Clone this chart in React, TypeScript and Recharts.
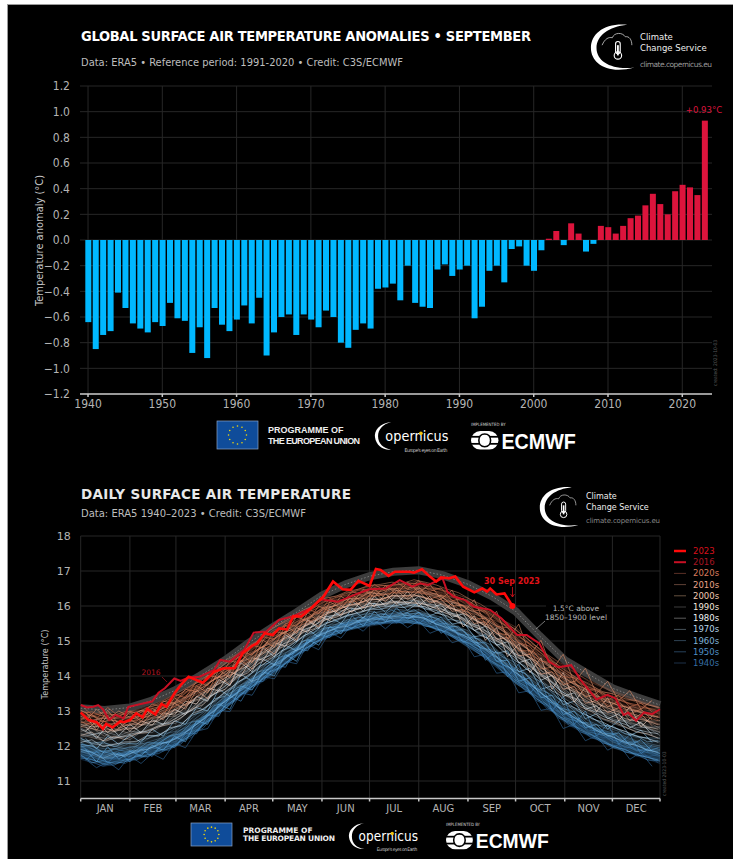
import { Area, Bar, BarChart, CartesianGrid, Cell, ComposedChart, Line, XAxis, YAxis } from "recharts"

// september anomalies 1940-2023 (degC, ref 1991-2020)
const years = [
  1940, 1941, 1942, 1943, 1944, 1945, 1946, 1947, 1948, 1949, 1950, 1951, 1952, 1953, 1954, 1955, 1956, 1957, 1958, 1959, 1960,
  1961, 1962, 1963, 1964, 1965, 1966, 1967, 1968, 1969, 1970, 1971, 1972, 1973, 1974, 1975, 1976, 1977, 1978, 1979, 1980,
  1981, 1982, 1983, 1984, 1985, 1986, 1987, 1988, 1989, 1990, 1991, 1992, 1993, 1994, 1995, 1996, 1997, 1998, 1999, 2000,
  2001, 2002, 2003, 2004, 2005, 2006, 2007, 2008, 2009, 2010, 2011, 2012, 2013, 2014, 2015, 2016, 2017, 2018, 2019, 2020,
  2021, 2022, 2023,
]
const anomalies = [
  -0.64, -0.85, -0.74, -0.71, -0.41, -0.53, -0.65, -0.69, -0.72, -0.64, -0.67, -0.49, -0.61, -0.63, -0.88, -0.68, -0.92, -0.53, -0.66, -0.71, -0.62,
  -0.51, -0.65, -0.45, -0.9, -0.72, -0.6, -0.58, -0.74, -0.58, -0.62, -0.68, -0.55, -0.6, -0.8, -0.84, -0.7, -0.65, -0.69, -0.38, -0.37,
  -0.34, -0.47, -0.2, -0.49, -0.52, -0.53, -0.23, -0.19, -0.28, -0.23, -0.2, -0.61, -0.52, -0.24, -0.2, -0.33, -0.07, -0.05, -0.2, -0.24,
  -0.08, 0.01, 0.07, -0.04, 0.13, 0.05, -0.09, -0.03, 0.11, 0.1, 0.05, 0.11, 0.17, 0.19, 0.27, 0.36, 0.28, 0.2, 0.38, 0.43,
  0.41, 0.35, 0.93,
]
const anomalyTicks = [-1.2, -1.0, -0.8, -0.6, -0.4, -0.2, 0, 0.2, 0.4, 0.6, 0.8, 1.0, 1.2]
const decadeTicks = [1940, 1950, 1960, 1970, 1980, 1990, 2000, 2010, 2020]

// daily temperature, day of year
const monthNames = ["JAN", "FEB", "MAR", "APR", "MAY", "JUN", "JUL", "AUG", "SEP", "OCT", "NOV", "DEC"]
const monthStarts = [1, 32, 61, 92, 122, 153, 183, 214, 245, 275, 306, 336, 366]
const tempTicks = [11, 12, 13, 14, 15, 16, 17, 18]

const days2023 = [
  1, 6, 11, 15, 17, 21, 26, 28, 32, 36, 40, 43, 48, 52, 55, 60, 64, 69, 78, 85, 91, 98, 103, 109, 112, 117, 122, 126, 131, 135, 140, 146,
  154, 160, 166, 171, 176, 183, 187, 190, 195, 199, 202, 208, 211, 216, 221, 225, 228, 233, 237, 242, 249, 254, 257, 259, 263, 268, 273,
]
const temps2023 = [
  12.96, 12.74, 12.68, 12.49, 12.63, 12.53, 12.71, 12.68, 12.74, 12.93, 12.82, 13.06, 12.9, 13.2, 13.12, 13.5, 13.74, 13.98, 13.81, 14.12,
  14.22, 14.22, 14.65, 14.86, 14.93, 15.22, 15.17, 15.36, 15.33, 15.71, 15.7, 15.93, 16.27, 16.7, 16.48, 16.46, 16.72, 16.57, 17.06, 17.03,
  16.86, 16.98, 16.98, 16.98, 16.95, 17.05, 16.84, 16.7, 16.82, 16.79, 16.84, 16.55, 16.39, 16.5, 16.41, 16.5, 16.33, 16.36, 16.0,
]
const days2016 = [
  1, 5, 9, 12, 15, 19, 23, 28, 31, 41, 46, 50, 54, 60, 64, 69, 76, 85, 89, 95, 104, 110, 118, 126, 135, 146, 152, 163, 173, 183, 193, 202,
  210, 215, 220, 229, 232, 236, 243, 249, 259, 266, 276, 282, 290, 296, 302, 310, 316, 326, 333, 338, 343, 346, 351, 356, 361, 366,
]
const temps2016 = [
  13.17, 13.1, 13.12, 13.17, 13.05, 12.74, 12.89, 12.79, 13.12, 13.22, 13.27, 13.52, 13.65, 13.93, 13.86, 13.96, 13.98, 14.17, 14.46, 14.41,
  14.74, 15.24, 15.27, 15.6, 15.71, 15.93, 16.19, 16.12, 16.31, 16.48, 16.5, 16.74, 16.55, 16.65, 16.6, 16.79, 16.41, 16.27, 16.17, 15.98,
  15.89, 15.65, 15.17, 15.17, 14.93, 14.41, 14.25, 14.31, 13.89, 13.33, 13.46, 13.36, 12.89, 12.95, 12.72, 12.96, 12.91, 13.05,
]

// the other years are read at these days
const sampleDays = [1, 16, 32, 46, 61, 76, 92, 107, 122, 137, 153, 168, 183, 198, 214, 229, 245, 260, 275, 290, 306, 321, 336, 351, 366]
const weekDays = [
  1, 8, 15, 22, 29, 36, 43, 50, 57, 64, 71, 78, 85, 92, 99, 106, 113, 120, 127, 134, 141, 148, 155, 162, 169, 176, 183, 190, 197, 204, 211, 218, 225,
  232, 239, 246, 253, 260, 267, 274, 281, 288, 295, 302, 309, 316, 323, 330, 337, 344, 351, 358, 365,
]
const offsetDays = [
  4, 11, 18, 25, 32, 39, 46, 53, 60, 67, 74, 81, 88, 95, 102, 109, 116, 123, 130, 137, 144, 151, 158, 165, 172, 179, 186, 193, 200, 207, 214, 221, 228,
  235, 242, 249, 256, 263, 270, 277, 284, 291, 298, 305, 312, 319, 326, 333, 340, 347, 354, 361,
]
const level15 = [
  13.08, 13.03, 13.1, 13.3, 13.6, 14.0, 14.45, 14.95, 15.4, 15.82, 16.3, 16.62, 16.85, 16.98, 17.02, 16.88, 16.62, 16.28, 15.85, 15.15, 14.45, 14.05, 13.65, 13.4, 13.17,
]

const years1940s = [
  [11.62, 11.42, 11.58, 11.8, 11.98, 12.5, 13.08, 13.6, 14.02, 14.58, 15.02, 15.3, 15.42, 15.55, 15.5, 15.28, 14.85, 14.38, 13.82, 13.3, 12.66, 12.28, 11.98, 11.72, 11.5],
  [11.85, 11.55, 11.72, 11.72, 12.15, 12.62, 13.25, 13.55, 14.18, 14.7, 15.18, 15.35, 15.58, 15.5, 15.62, 15.4, 15.02, 14.42, 14.0, 13.35, 12.85, 12.35, 12.15, 11.8, 11.62],
  [11.7, 11.78, 11.6, 11.95, 12.05, 12.72, 13.15, 13.78, 14.12, 14.62, 15.1, 15.45, 15.5, 15.66, 15.55, 15.32, 14.92, 14.58, 13.88, 13.5, 12.74, 12.48, 12.02, 11.92, 11.72],
  [11.95, 11.62, 11.85, 11.88, 12.28, 12.58, 13.35, 13.7, 14.28, 14.78, 15.25, 15.42, 15.65, 15.6, 15.72, 15.48, 15.08, 14.55, 14.08, 13.48, 12.95, 12.42, 12.22, 12.0, 11.8],
]
const years1950s = [
  [11.68, 11.5, 11.65, 11.78, 12.08, 12.55, 13.12, 13.62, 14.1, 14.55, 15.05, 15.28, 15.48, 15.52, 15.52, 15.25, 14.88, 14.35, 13.8, 13.28, 12.72, 12.3, 12.0, 11.78, 11.55],
  [11.9, 11.7, 11.55, 11.98, 12.2, 12.75, 13.3, 13.72, 14.25, 14.72, 15.2, 15.48, 15.6, 15.7, 15.65, 15.45, 15.05, 14.6, 14.05, 13.55, 12.92, 12.52, 12.18, 11.92, 11.68],
  [11.78, 11.58, 11.82, 11.85, 12.02, 12.48, 13.22, 13.85, 14.18, 14.8, 15.15, 15.38, 15.66, 15.58, 15.74, 15.38, 15.12, 14.48, 14.15, 13.42, 12.82, 12.6, 12.28, 11.85, 11.78],
  [12.02, 11.82, 11.75, 12.1, 12.32, 12.68, 13.38, 13.68, 14.35, 14.68, 15.3, 15.52, 15.55, 15.78, 15.68, 15.55, 14.98, 14.68, 13.98, 13.62, 13.02, 12.45, 12.35, 12.05, 11.9],
]
const years1960s = [
  [11.72, 11.48, 11.62, 11.92, 12.02, 12.62, 13.05, 13.7, 14.05, 14.62, 15.08, 15.32, 15.45, 15.6, 15.48, 15.3, 14.82, 14.42, 13.78, 13.38, 12.7, 12.38, 11.95, 11.75, 11.58],
  [11.98, 11.65, 11.85, 11.8, 12.25, 12.5, 13.32, 13.62, 14.3, 14.75, 15.22, 15.4, 15.7, 15.55, 15.7, 15.48, 15.1, 14.52, 14.12, 13.45, 12.98, 12.4, 12.25, 12.02, 11.72],
  [11.82, 11.88, 11.7, 12.08, 12.12, 12.78, 13.2, 13.9, 14.15, 14.85, 15.12, 15.55, 15.58, 15.72, 15.6, 15.35, 14.95, 14.72, 13.92, 13.6, 12.8, 12.62, 12.12, 11.88, 11.88],
  [12.1, 11.72, 11.98, 11.95, 12.4, 12.7, 13.45, 13.75, 14.42, 14.7, 15.35, 15.45, 15.72, 15.65, 15.82, 15.58, 15.18, 14.6, 14.22, 13.52, 13.08, 12.55, 12.38, 12.12, 11.95],
]
const years1970s = [
  [11.85, 11.62, 11.78, 11.95, 12.22, 12.68, 13.28, 13.75, 14.28, 14.72, 15.22, 15.45, 15.6, 15.65, 15.68, 15.42, 15.05, 14.62, 14.1, 13.55, 12.98, 12.55, 12.25, 12.02, 11.78],
  [12.05, 11.92, 11.95, 12.15, 12.35, 12.88, 13.4, 13.92, 14.38, 14.88, 15.3, 15.6, 15.72, 15.8, 15.78, 15.6, 15.22, 14.78, 14.28, 13.72, 13.12, 12.72, 12.42, 12.15, 12.0],
  [12.22, 11.8, 12.08, 12.05, 12.52, 12.78, 13.55, 13.85, 14.5, 14.82, 15.42, 15.52, 15.85, 15.72, 15.9, 15.52, 15.3, 14.7, 14.38, 13.65, 13.25, 12.62, 12.55, 12.3, 12.12],
  [11.98, 12.08, 11.88, 12.28, 12.42, 12.98, 13.48, 14.02, 14.45, 15.0, 15.35, 15.7, 15.78, 15.92, 15.82, 15.68, 15.18, 14.88, 14.2, 13.85, 13.18, 12.85, 12.48, 12.25, 12.22],
]
const years1980s = [
  [12.15, 12.0, 12.1, 12.25, 12.55, 13.0, 13.52, 14.05, 14.52, 15.02, 15.45, 15.72, 15.88, 15.95, 15.98, 15.75, 15.42, 14.98, 14.45, 13.92, 13.35, 12.92, 12.65, 12.42, 12.22],
  [12.35, 12.22, 12.28, 12.48, 12.72, 13.18, 13.7, 14.15, 14.68, 15.1, 15.6, 15.82, 16.0, 16.05, 16.08, 15.9, 15.55, 15.12, 14.62, 14.08, 13.5, 13.12, 12.78, 12.6, 12.38],
  [12.52, 12.12, 12.42, 12.38, 12.88, 13.08, 13.85, 14.28, 14.78, 15.22, 15.55, 15.92, 15.95, 16.12, 16.02, 15.82, 15.62, 15.05, 14.72, 14.02, 13.62, 13.02, 12.92, 12.52, 12.55],
  [12.25, 12.42, 12.18, 12.62, 12.65, 13.3, 13.62, 14.38, 14.62, 15.28, 15.68, 15.78, 16.08, 16.0, 16.15, 15.98, 15.48, 15.22, 14.55, 14.22, 13.45, 13.25, 12.72, 12.72, 12.3],
]
const years1990s = [
  [12.32, 12.15, 12.3, 12.5, 12.78, 13.22, 13.78, 14.22, 14.72, 15.15, 15.58, 15.8, 16.0, 16.08, 16.1, 15.9, 15.58, 15.18, 14.65, 14.12, 13.55, 13.1, 12.85, 12.62, 12.4],
  [12.58, 12.4, 12.48, 12.68, 12.98, 13.42, 13.88, 14.4, 14.85, 15.3, 15.72, 15.98, 16.1, 16.22, 16.2, 16.05, 15.72, 15.32, 14.82, 14.3, 13.72, 13.32, 13.02, 12.82, 12.6],
  [12.42, 12.6, 12.35, 12.82, 12.85, 13.5, 13.95, 14.3, 14.95, 15.22, 15.82, 15.88, 16.22, 16.12, 16.32, 15.98, 15.82, 15.25, 14.92, 14.18, 13.82, 13.2, 13.12, 12.7, 12.72],
  [12.72, 12.28, 12.65, 12.58, 13.1, 13.32, 14.05, 14.5, 14.8, 15.4, 15.65, 16.05, 16.05, 16.3, 16.15, 16.12, 15.65, 15.42, 14.75, 14.38, 13.65, 13.42, 12.95, 12.9, 12.5],
]
const years2000s = [
  [12.55, 12.42, 12.5, 12.72, 13.02, 13.45, 13.95, 14.42, 14.9, 15.32, 15.72, 15.98, 16.15, 16.25, 16.28, 16.08, 15.75, 15.38, 14.88, 14.35, 13.78, 13.38, 13.08, 12.85, 12.62],
  [12.78, 12.62, 12.7, 12.9, 13.15, 13.62, 14.1, 14.55, 15.02, 15.45, 15.88, 16.1, 16.28, 16.35, 16.4, 16.22, 15.9, 15.5, 15.02, 14.52, 13.95, 13.52, 13.22, 13.02, 12.82],
  [12.65, 12.82, 12.58, 13.02, 13.28, 13.55, 14.22, 14.48, 15.12, 15.38, 15.95, 16.05, 16.38, 16.3, 16.5, 16.15, 16.0, 15.45, 15.12, 14.42, 14.05, 13.45, 13.32, 12.95, 12.95],
  [12.9, 12.52, 12.85, 12.82, 13.05, 13.72, 14.02, 14.65, 14.95, 15.55, 15.82, 16.2, 16.22, 16.45, 16.35, 16.3, 15.82, 15.62, 14.95, 14.6, 13.88, 13.6, 13.15, 13.1, 12.72],
]
const years2010s = [
  [12.72, 12.6, 12.68, 12.88, 13.18, 13.62, 14.12, 14.58, 15.05, 15.48, 15.88, 16.12, 16.3, 16.38, 16.42, 16.25, 15.92, 15.55, 15.08, 14.55, 13.98, 13.55, 13.25, 13.02, 12.8],
  [12.92, 12.78, 12.85, 13.05, 13.32, 13.78, 14.28, 14.72, 15.2, 15.6, 16.02, 16.28, 16.42, 16.5, 16.55, 16.38, 16.08, 15.7, 15.22, 14.68, 14.1, 13.68, 13.4, 13.15, 12.98],
  [12.85, 12.98, 12.75, 13.18, 13.45, 13.7, 14.38, 14.65, 15.3, 15.55, 16.12, 16.2, 16.52, 16.48, 16.68, 16.3, 16.18, 15.62, 15.35, 14.62, 14.22, 13.6, 13.5, 13.08, 13.08],
  [13.02, 12.7, 13.0, 12.98, 13.25, 13.9, 14.2, 14.85, 15.15, 15.72, 15.98, 16.38, 16.4, 16.62, 16.5, 16.5, 16.0, 15.82, 15.15, 14.8, 14.05, 13.8, 13.32, 13.3, 12.88],
  [12.78, 12.88, 12.92, 13.12, 13.5, 13.85, 14.45, 14.78, 15.38, 15.68, 16.2, 16.35, 16.6, 16.58, 16.72, 16.45, 16.22, 15.78, 15.4, 14.75, 14.3, 13.85, 13.55, 13.25, 13.1],
]
const years2020s = [
  [13.0, 12.85, 12.98, 13.15, 13.4, 13.92, 14.4, 14.88, 15.25, 15.68, 16.1, 16.35, 16.55, 16.6, 16.65, 16.42, 16.15, 15.75, 15.32, 14.78, 14.25, 13.88, 13.58, 13.32, 13.1],
  [12.68, 12.55, 12.62, 12.82, 13.12, 13.68, 14.05, 14.6, 15.0, 15.52, 15.85, 16.18, 16.32, 16.52, 16.45, 16.32, 15.95, 15.6, 15.12, 14.62, 14.02, 13.65, 13.28, 13.05, 12.85],
  [12.82, 12.7, 12.78, 12.95, 13.22, 13.75, 14.18, 14.7, 15.12, 15.55, 15.92, 16.22, 16.4, 16.55, 16.58, 16.35, 16.05, 15.72, 15.2, 14.7, 14.15, 13.72, 13.38, 13.12, 12.92],
]

// a few years read weekly, they carry the wiggle
const weekly1940s = [
  [11.7, 11.55, 11.42, 11.55, 11.5, 11.7, 11.68, 11.85, 11.88, 12.12, 12.25, 12.6, 12.78, 13.12, 13.3, 13.65, 13.78, 14.08, 14.22, 14.55, 14.68, 14.95, 15.05, 15.28, 15.3, 15.48, 15.45, 15.6, 15.52, 15.58, 15.5, 15.52, 15.32, 15.25, 15.02, 14.95, 14.62, 14.48, 14.12, 13.98, 13.58, 13.42, 13.05, 12.92, 12.58, 12.5, 12.22, 12.18, 11.95, 11.92, 11.72, 11.72, 11.52],
  [11.92, 11.78, 11.7, 11.62, 11.78, 11.82, 11.98, 11.92, 12.18, 12.22, 12.55, 12.7, 13.08, 13.22, 13.58, 13.72, 14.05, 14.18, 14.48, 14.62, 14.92, 15.02, 15.3, 15.35, 15.52, 15.55, 15.7, 15.62, 15.78, 15.65, 15.72, 15.55, 15.58, 15.3, 15.35, 15.0, 14.92, 14.58, 14.52, 14.05, 13.95, 13.5, 13.42, 13.0, 12.88, 12.58, 12.55, 12.25, 12.2, 11.95, 11.98, 11.7, 11.75],
]
const weekly1950s = [
  [11.65, 11.62, 11.48, 11.45, 11.62, 11.6, 11.75, 11.78, 11.95, 12.05, 12.38, 12.5, 12.88, 13.05, 13.42, 13.55, 13.88, 14.02, 14.3, 14.45, 14.78, 14.88, 15.15, 15.2, 15.38, 15.4, 15.5, 15.48, 15.6, 15.5, 15.62, 15.42, 15.4, 15.18, 15.1, 14.85, 14.68, 14.38, 14.22, 13.85, 13.68, 13.3, 13.15, 12.8, 12.68, 12.4, 12.3, 12.08, 12.02, 11.82, 11.78, 11.6, 11.58],
  [12.02, 11.8, 11.85, 11.75, 11.72, 11.95, 11.92, 12.08, 12.12, 12.35, 12.48, 12.82, 12.98, 13.35, 13.5, 13.85, 13.98, 14.32, 14.42, 14.75, 14.85, 15.15, 15.22, 15.45, 15.48, 15.68, 15.62, 15.78, 15.7, 15.85, 15.72, 15.75, 15.48, 15.5, 15.18, 15.18, 14.8, 14.75, 14.32, 14.2, 13.82, 13.72, 13.28, 13.18, 12.82, 12.78, 12.45, 12.42, 12.15, 12.12, 11.88, 11.9, 11.82],
]
const weekly1960s = [
  [11.75, 11.52, 11.58, 11.5, 11.55, 11.72, 11.7, 11.88, 11.92, 12.15, 12.3, 12.62, 12.82, 13.15, 13.35, 13.62, 13.82, 14.12, 14.25, 14.52, 14.72, 14.95, 15.1, 15.28, 15.32, 15.45, 15.55, 15.52, 15.58, 15.6, 15.55, 15.48, 15.35, 15.25, 15.05, 14.92, 14.72, 14.42, 14.25, 13.9, 13.72, 13.35, 13.18, 12.85, 12.72, 12.45, 12.32, 12.15, 11.98, 11.9, 11.75, 11.68, 11.6],
  [12.05, 12.0, 11.82, 11.92, 11.85, 11.88, 12.1, 12.08, 12.28, 12.35, 12.68, 12.75, 13.15, 13.25, 13.65, 13.75, 14.12, 14.2, 14.55, 14.62, 15.0, 15.05, 15.38, 15.4, 15.6, 15.58, 15.78, 15.72, 15.88, 15.75, 15.9, 15.7, 15.68, 15.4, 15.42, 15.1, 15.05, 14.7, 14.62, 14.18, 14.08, 13.65, 13.52, 13.1, 13.02, 12.68, 12.65, 12.35, 12.35, 12.1, 12.12, 11.85, 11.95],
]
const weekly1970s = [
  [11.9, 11.82, 11.65, 11.78, 11.7, 11.88, 11.9, 12.05, 12.12, 12.28, 12.52, 12.75, 13.0, 13.28, 13.48, 13.8, 13.92, 14.25, 14.38, 14.68, 14.82, 15.1, 15.22, 15.38, 15.42, 15.58, 15.62, 15.7, 15.68, 15.75, 15.7, 15.65, 15.48, 15.38, 15.22, 15.08, 14.88, 14.65, 14.42, 14.12, 13.92, 13.62, 13.38, 13.1, 12.9, 12.7, 12.52, 12.35, 12.25, 12.08, 12.02, 11.88, 11.82],
  [12.22, 12.08, 12.12, 11.98, 12.08, 12.05, 12.28, 12.3, 12.48, 12.6, 12.88, 12.98, 13.35, 13.42, 13.82, 13.95, 14.28, 14.38, 14.72, 14.82, 15.15, 15.25, 15.52, 15.58, 15.75, 15.78, 15.92, 15.9, 16.02, 15.95, 16.05, 15.92, 15.88, 15.62, 15.58, 15.38, 15.22, 14.98, 14.82, 14.45, 14.28, 13.92, 13.72, 13.35, 13.2, 12.95, 12.82, 12.6, 12.55, 12.35, 12.3, 12.12, 12.15],
]
const weekly1980s = [
  [12.1, 12.18, 11.98, 12.05, 12.12, 12.12, 12.3, 12.28, 12.52, 12.58, 12.92, 13.05, 13.28, 13.55, 13.78, 14.0, 14.22, 14.48, 14.68, 14.9, 15.12, 15.32, 15.48, 15.62, 15.72, 15.82, 15.9, 15.98, 15.98, 16.05, 16.0, 15.98, 15.8, 15.72, 15.52, 15.42, 15.15, 15.05, 14.7, 14.55, 14.22, 14.02, 13.65, 13.48, 13.15, 13.02, 12.78, 12.68, 12.52, 12.42, 12.28, 12.22, 12.1],
  [12.48, 12.32, 12.38, 12.22, 12.3, 12.38, 12.42, 12.58, 12.68, 12.88, 13.02, 13.28, 13.48, 13.72, 13.98, 14.15, 14.45, 14.58, 14.88, 15.02, 15.32, 15.42, 15.68, 15.75, 15.95, 15.92, 16.08, 16.05, 16.15, 16.1, 16.18, 16.05, 16.02, 15.82, 15.75, 15.5, 15.42, 15.12, 15.0, 14.65, 14.5, 14.12, 13.95, 13.62, 13.42, 13.18, 13.02, 12.85, 12.72, 12.62, 12.48, 12.4, 12.35],
]
const weekly1990s = [
  [12.3, 12.4, 12.15, 12.28, 12.18, 12.35, 12.38, 12.55, 12.62, 12.8, 13.05, 13.18, 13.5, 13.62, 13.95, 14.08, 14.35, 14.52, 14.8, 14.95, 15.25, 15.35, 15.6, 15.68, 15.82, 15.92, 16.0, 16.05, 16.1, 16.12, 16.08, 16.05, 15.92, 15.78, 15.68, 15.48, 15.32, 15.08, 14.92, 14.62, 14.38, 14.12, 13.88, 13.55, 13.38, 13.12, 12.98, 12.78, 12.68, 12.55, 12.4, 12.35, 12.22],
  [12.62, 12.55, 12.58, 12.4, 12.52, 12.5, 12.68, 12.72, 12.9, 13.0, 13.28, 13.38, 13.72, 13.85, 14.15, 14.28, 14.58, 14.72, 14.98, 15.15, 15.42, 15.52, 15.8, 15.85, 16.02, 16.08, 16.18, 16.2, 16.28, 16.3, 16.32, 16.22, 16.15, 15.95, 15.88, 15.68, 15.52, 15.32, 15.1, 14.88, 14.65, 14.35, 14.1, 13.82, 13.62, 13.4, 13.22, 13.02, 12.95, 12.78, 12.72, 12.55, 12.48],
]
const weekly2000s = [
  [12.55, 12.68, 12.5, 12.45, 12.58, 12.62, 12.75, 12.82, 12.95, 13.12, 13.3, 13.52, 13.68, 13.95, 14.12, 14.38, 14.52, 14.8, 15.0, 15.2, 15.38, 15.58, 15.75, 15.92, 16.0, 16.08, 16.2, 16.18, 16.3, 16.28, 16.32, 16.25, 16.12, 16.0, 15.85, 15.72, 15.5, 15.35, 15.08, 14.9, 14.6, 14.42, 14.1, 13.9, 13.68, 13.5, 13.28, 13.15, 13.02, 12.92, 12.78, 12.72, 12.6],
  [12.85, 12.72, 12.8, 12.72, 12.68, 12.82, 12.9, 13.02, 13.15, 13.28, 13.52, 13.62, 13.92, 14.02, 14.38, 14.48, 14.78, 14.92, 15.22, 15.32, 15.6, 15.68, 15.95, 16.02, 16.2, 16.22, 16.38, 16.35, 16.48, 16.42, 16.52, 16.38, 16.35, 16.15, 16.08, 15.88, 15.78, 15.5, 15.35, 15.0, 14.85, 14.52, 14.35, 14.02, 13.85, 13.62, 13.48, 13.28, 13.22, 13.05, 13.0, 12.88, 12.82],
]
const weekly2010s = [
  [12.75, 12.9, 12.68, 12.78, 12.82, 12.78, 12.98, 13.0, 13.2, 13.3, 13.58, 13.68, 13.9, 14.12, 14.32, 14.58, 14.75, 15.0, 15.18, 15.4, 15.58, 15.78, 15.98, 16.12, 16.18, 16.3, 16.38, 16.42, 16.5, 16.48, 16.55, 16.45, 16.32, 16.25, 16.05, 15.95, 15.72, 15.55, 15.28, 15.08, 14.82, 14.6, 14.3, 14.1, 13.85, 13.7, 13.5, 13.35, 13.2, 13.12, 13.0, 12.92, 12.82],
  [13.02, 12.85, 12.95, 12.88, 12.98, 12.95, 13.1, 13.18, 13.35, 13.5, 13.72, 13.9, 14.1, 14.35, 14.58, 14.8, 15.02, 15.3, 15.5, 15.68, 15.88, 16.02, 16.22, 16.28, 16.42, 16.48, 16.58, 16.62, 16.68, 16.65, 16.75, 16.68, 16.6, 16.48, 16.38, 16.2, 16.05, 15.85, 15.62, 15.35, 15.12, 14.85, 14.58, 14.3, 14.08, 13.88, 13.72, 13.55, 13.48, 13.35, 13.3, 13.18, 13.1],
]
const weekly2020s = [
  [12.92, 12.98, 12.85, 12.8, 12.92, 12.9, 13.05, 13.12, 13.28, 13.42, 13.68, 13.8, 14.05, 14.25, 14.5, 14.7, 14.95, 15.18, 15.38, 15.6, 15.78, 15.95, 16.12, 16.25, 16.32, 16.45, 16.48, 16.58, 16.6, 16.62, 16.65, 16.6, 16.5, 16.4, 16.25, 16.12, 15.92, 15.75, 15.5, 15.28, 15.0, 14.78, 14.5, 14.22, 14.02, 13.78, 13.65, 13.48, 13.38, 13.25, 13.18, 13.08, 13.02],
  [12.68, 12.6, 12.72, 12.58, 12.7, 12.72, 12.85, 12.92, 13.05, 13.22, 13.4, 13.58, 13.8, 14.0, 14.25, 14.42, 14.68, 14.85, 15.1, 15.28, 15.48, 15.62, 15.85, 15.95, 16.1, 16.15, 16.28, 16.3, 16.38, 16.42, 16.4, 16.35, 16.22, 16.12, 15.92, 15.82, 15.6, 15.42, 15.18, 14.98, 14.7, 14.5, 14.2, 14.0, 13.75, 13.58, 13.38, 13.25, 13.1, 13.02, 12.88, 12.82, 12.72],
]

// restless years, read at the offset days
const restless1940s = [
  [11.62, 11.38, 11.55, 11.32, 11.72, 11.5, 11.78, 11.62, 12.08, 11.95, 12.42, 12.5, 13.02, 12.98, 13.52, 13.45, 13.98, 13.92, 14.42, 14.35, 14.9, 14.75, 15.25, 15.08, 15.48, 15.28, 15.6, 15.35, 15.62, 15.38, 15.58, 15.22, 15.35, 14.95, 15.05, 14.55, 14.62, 14.08, 14.12, 13.52, 13.58, 13.02, 13.08, 12.5, 12.62, 12.15, 12.3, 11.88, 12.05, 11.62, 11.82, 11.42],
]
const restless1950s = [
  [11.6, 11.85, 11.52, 11.82, 11.55, 11.92, 11.7, 12.12, 11.95, 12.35, 12.35, 12.88, 12.85, 13.42, 13.28, 13.82, 13.85, 14.32, 14.25, 14.78, 14.72, 15.18, 15.1, 15.52, 15.35, 15.68, 15.48, 15.78, 15.52, 15.8, 15.5, 15.72, 15.22, 15.42, 14.95, 15.15, 14.45, 14.72, 13.98, 14.35, 13.5, 13.88, 13.0, 13.42, 12.62, 13.0, 12.28, 12.62, 12.05, 12.32, 11.78, 12.02],
]
const restless1960s = [
  [11.9, 11.55, 11.98, 11.62, 11.85, 11.72, 12.02, 11.88, 12.28, 12.12, 12.72, 12.62, 13.2, 13.05, 13.72, 13.6, 14.12, 14.0, 14.62, 14.42, 15.05, 14.88, 15.42, 15.2, 15.72, 15.42, 15.85, 15.55, 15.95, 15.62, 15.82, 15.5, 15.68, 15.3, 15.32, 14.95, 14.95, 14.42, 14.45, 13.85, 13.95, 13.38, 13.45, 12.9, 13.0, 12.52, 12.62, 12.28, 12.38, 12.02, 12.18, 11.85],
]
const restless1970s = [
  [12.22, 11.92, 12.28, 12.05, 12.32, 12.1, 12.48, 12.28, 12.72, 12.62, 13.1, 13.0, 13.62, 13.42, 14.05, 13.85, 14.48, 14.32, 14.88, 14.72, 15.32, 15.12, 15.68, 15.5, 15.92, 15.65, 16.08, 15.82, 16.12, 15.88, 16.1, 15.72, 15.85, 15.48, 15.55, 15.12, 15.18, 14.65, 14.72, 14.12, 14.22, 13.62, 13.72, 13.18, 13.28, 12.78, 12.92, 12.48, 12.72, 12.3, 12.45, 12.1],
]
const restless1980s = [
  [12.55, 12.22, 12.6, 12.3, 12.62, 12.38, 12.75, 12.62, 13.05, 12.9, 13.42, 13.28, 13.9, 13.72, 14.38, 14.12, 14.8, 14.55, 15.18, 14.98, 15.6, 15.35, 15.92, 15.7, 16.15, 15.85, 16.28, 16.0, 16.32, 16.05, 16.28, 15.92, 16.05, 15.68, 15.78, 15.3, 15.42, 14.88, 14.98, 14.38, 14.48, 13.88, 14.02, 13.42, 13.52, 13.05, 13.15, 12.78, 12.92, 12.52, 12.68, 12.32],
]
const restless1990s = [
  [12.42, 12.72, 12.38, 12.68, 12.42, 12.72, 12.6, 12.95, 12.88, 13.28, 13.2, 13.65, 13.58, 14.12, 14.0, 14.52, 14.45, 14.95, 14.85, 15.38, 15.25, 15.72, 15.58, 16.02, 15.82, 16.22, 15.98, 16.35, 16.05, 16.42, 16.0, 16.28, 15.82, 16.08, 15.4, 15.72, 15.02, 15.38, 14.55, 14.92, 14.1, 14.52, 13.62, 14.1, 13.25, 13.68, 12.98, 13.38, 12.72, 13.12, 12.55, 12.85],
]
const restless2000s = [
  [12.85, 12.45, 12.88, 12.52, 12.75, 12.6, 12.95, 12.75, 13.22, 13.05, 13.6, 13.35, 14.0, 13.75, 14.45, 14.2, 14.85, 14.62, 15.25, 15.02, 15.62, 15.4, 15.98, 15.75, 16.2, 15.95, 16.38, 16.12, 16.45, 16.18, 16.42, 16.08, 16.2, 15.85, 15.9, 15.5, 15.55, 15.05, 15.1, 14.58, 14.62, 14.05, 14.12, 13.62, 13.7, 13.22, 13.3, 12.95, 13.1, 12.72, 12.92, 12.58],
]
const restless2010s = [
  [12.98, 12.55, 13.02, 12.62, 12.98, 12.7, 13.08, 12.88, 13.38, 13.15, 13.72, 13.52, 14.18, 13.95, 14.62, 14.38, 15.02, 14.82, 15.45, 15.22, 15.82, 15.55, 16.12, 15.92, 16.32, 16.1, 16.48, 16.22, 16.52, 16.25, 16.55, 16.2, 16.3, 16.0, 16.02, 15.62, 15.65, 15.22, 15.18, 14.72, 14.72, 14.2, 14.25, 13.75, 13.85, 13.4, 13.5, 13.12, 13.28, 12.92, 13.05, 12.75],
  [12.72, 13.05, 12.78, 13.0, 12.82, 13.02, 12.95, 13.28, 13.22, 13.62, 13.55, 14.02, 13.95, 14.42, 14.38, 14.88, 14.8, 15.28, 15.2, 15.7, 15.55, 16.0, 15.85, 16.28, 16.08, 16.48, 16.25, 16.58, 16.35, 16.68, 16.38, 16.62, 16.2, 16.45, 15.82, 16.18, 15.45, 15.85, 15.05, 15.48, 14.6, 15.02, 14.18, 14.62, 13.82, 14.22, 13.5, 13.85, 13.3, 13.58, 13.05, 13.3],
]
const restless2020s = [
  [13.05, 12.78, 13.1, 12.85, 13.0, 12.88, 13.2, 13.1, 13.48, 13.38, 13.85, 13.72, 14.25, 14.15, 14.7, 14.6, 15.12, 15.05, 15.5, 15.42, 15.92, 15.78, 16.22, 16.05, 16.42, 16.28, 16.62, 16.42, 16.68, 16.48, 16.72, 16.42, 16.52, 16.15, 16.22, 15.88, 15.85, 15.42, 15.38, 14.95, 14.85, 14.42, 14.38, 13.98, 13.95, 13.62, 13.62, 13.32, 13.45, 13.12, 13.22, 12.98],
]

const decades = [
  { name: "1940s", color: "#2f6496", rows: years1940s, weekly: weekly1940s, restless: restless1940s, haze: 0.16 },
  { name: "1950s", color: "#3f86c0", rows: years1950s, weekly: weekly1950s, restless: restless1950s, haze: 0.16 },
  { name: "1960s", color: "#5aa4da", rows: years1960s, weekly: weekly1960s, restless: restless1960s, haze: 0.16 },
  { name: "1970s", color: "#86bfe6", rows: years1970s, weekly: weekly1970s, restless: restless1970s, haze: 0.14 },
  { name: "1980s", color: "#cfe2ee", rows: years1980s, weekly: weekly1980s, restless: restless1980s, haze: 0.1 },
  { name: "1990s", color: "#f2d6c6", rows: years1990s, weekly: weekly1990s, restless: restless1990s, haze: 0.06 },
  { name: "2000s", color: "#eaa98c", rows: years2000s, weekly: weekly2000s, restless: restless2000s, haze: 0.05 },
  { name: "2010s", color: "#dc8a66", rows: years2010s, weekly: weekly2010s, restless: restless2010s, haze: 0.04 },
  { name: "2020s", color: "#c96c4c", rows: years2020s, weekly: weekly2020s, restless: restless2020s, haze: 0.03 },
]

const legendRows = [
  { name: "2023", text: "#d8101c", line: "#ff0a0a", w: 2.5 },
  { name: "2016", text: "#a81420", line: "#c81024", w: 2 },
  { name: "2020s", text: "#d97b5c", line: "#5a3026", w: 1 },
  { name: "2010s", text: "#e8a488", line: "#5e4036", w: 1 },
  { name: "2000s", text: "#f0c8b0", line: "#64503f", w: 1 },
  { name: "1990s", text: "#f2e6dc", line: "#3c3c3c", w: 1 },
  { name: "1980s", text: "#eef1f4", line: "#5c5c5c", w: 1 },
  { name: "1970s", text: "#b4d2e6", line: "#46525a", w: 1 },
  { name: "1960s", text: "#7fb0d6", line: "#2e4252", w: 1 },
  { name: "1950s", text: "#4f8fc4", line: "#26405a", w: 1 },
  { name: "1940s", text: "#356ea4", line: "#1c3048", w: 1 },
]

const anomalyTable = years.map((year, i) => ({ year, value: anomalies[i] }))
const series = (days: number[], values: number[]) => days.map((day, i) => ({ day, t: values[i] }))
// spread of each decade's years, drawn as a faint haze behind the lines
const spread = (rows: number[][]) =>
  sampleDays.map((day, i) => {
    const col = rows.map((r) => r[i])
    return { day, range: [Math.min(...col), Math.max(...col)] }
  })

const sans = "'DejaVu Sans', sans-serif"
const cond = "'DejaVu Sans Condensed', 'DejaVu Sans', sans-serif"
const tickStyle = { fill: "#b4b4b4", fontFamily: cond, fontSize: 12 }
const gridColor = "#272727"
const pxPerDay = (660 - 80.7) / 365

function MonthTick({ x, y, payload }: any) {
  const i = monthStarts.indexOf(payload.value)
  if (i >= monthNames.length) return <g />
  const mid = x + ((monthStarts[i + 1] - monthStarts[i]) / 2) * pxPerDay
  return (
    <text x={mid} y={y + 8} textAnchor="middle" fontFamily={sans} fontSize={10} fill="#b4b4b4">
      {monthNames[i]}
    </text>
  )
}

function ClimateLogo({ x, y, s }: { x: number; y: number; s: number }) {
  return (
    <g transform={`translate(${x} ${y}) scale(${s})`}>
      <path d="M40 4 C15 2 1 14 1 29 C1 45 18 58 48 50 C24 53 7 44 7 29 C7 16 20 6 40 4 Z" fill="#fff" />
      <path d="M13 26 C16 19 20 17 24 18 C26 12 35 12 38 17 C42 16 45 20 45 26" fill="none" stroke="#ddd" strokeWidth={0.8} />
      <rect x={27.5} y={22} width={5} height={13} rx={2.5} fill="none" stroke="#fff" strokeWidth={1.2} />
      <circle cx={30} cy={37} r={4} fill="none" stroke="#fff" strokeWidth={1.2} />
      <rect x={29} y={26} width={2} height={11} fill="#fff" />
    </g>
  )
}

function EuFlag({ x, y, w, h }: { x: number; y: number; w: number; h: number }) {
  const stars = [0, 30, 60, 90, 120, 150, 180, 210, 240, 270, 300, 330]
  return (
    <g>
      <rect x={x} y={y} width={w} height={h} fill="#0f4c9a" stroke="#8aa4c8" strokeWidth={0.7} />
      {stars.map((a) => (
        <circle
          key={a}
          cx={x + w / 2 + (h * 0.32) * Math.cos((a * Math.PI) / 180)}
          cy={y + h / 2 + (h * 0.32) * Math.sin((a * Math.PI) / 180)}
          r={0.8}
          fill="#f5d90a"
        />
      ))}
    </g>
  )
}

function Copernicus({ x, y, s }: { x: number; y: number; s: number }) {
  return (
    <g transform={`translate(${x} ${y}) scale(${s})`}>
      <path d="M16 1 C4 2 -1 10 0 16 C1 24 8 29 16 28 C8 27 3 22 3 15 C3 8 8 3 16 1 Z" fill="#fff" />
      <text x={10} y={20} fontFamily={cond} fontSize={14} fill="#fff" textLength={62}>opernicus</text>
      <circle cx={45} cy={12} r={1.8} fill="#f2c40f" />
      <text x={29} y={30} fontFamily={cond} fontSize={5} fill="#ccc" textLength={42}>Europe's eyes on Earth</text>
    </g>
  )
}

function Ecmwf({ x, y, s }: { x: number; y: number; s: number }) {
  return (
    <g transform={`translate(${x} ${y}) scale(${s})`}>
      <text x={0} y={-5} fontFamily={cond} fontSize={4.5} fill="#ccc">IMPLEMENTED BY</text>
      <rect x={0} y={0} width={28} height={19} rx={9.5} fill="#fff" />
      <rect x={0} y={5} width={9} height={1.8} fill="#000" />
      <rect x={0} y={12.2} width={9} height={1.8} fill="#000" />
      <rect x={19} y={5} width={9} height={1.8} fill="#000" />
      <rect x={19} y={12.2} width={9} height={1.8} fill="#000" />
      <path d="M14 3 C10 3 8 6 8 9.5 C8 13 10 16 14 16 C18 16 20 13 20 9.5 C20 6 18 3 14 3 Z" fill="none" stroke="#000" strokeWidth={1.6} />
      <text x={31} y={18} fontFamily="'Liberation Sans', sans-serif" fontWeight={700} fontSize={22} fill="#fff" textLength={76} lengthAdjust="spacingAndGlyphs">ECMWF</text>
    </g>
  )
}

function Overlay() {
  return (
    <svg width={733} height={859} style={{ position: "absolute", left: 0, top: 0, pointerEvents: "none" }}>
      {/* top chart texts */}
      <text x={81} y={41} fontFamily={cond} fontWeight={700} fontSize={14.5} fill="#fff" textLength={450}>GLOBAL SURFACE AIR TEMPERATURE ANOMALIES • SEPTEMBER</text>
      <text x={81} y={66} fontFamily={cond} fontSize={11} fill="#bdbdbd" textLength={322}>Data: ERA5 • Reference period: 1991-2020 • Credit: C3S/ECMWF</text>
      <ClimateLogo x={590} y={21} s={0.93} />
      <text x={640} y={40} fontFamily={sans} fontSize={8.5} fill="#eee">Climate</text>
      <text x={640} y={51} fontFamily={sans} fontSize={8.5} fill="#eee">Change Service</text>
      <text x={640} y={67} fontFamily={sans} fontSize={7.5} fill="#999" textLength={72}>climate.copernicus.eu</text>
      <text x={704} y={113} textAnchor="middle" fontFamily={cond} fontSize={9.5} fill="#dc143c">+0.93°C</text>
      <text transform="translate(717 386) rotate(-90)" fontFamily={cond} fontSize={5} fill="#555">created: 2023-10-03</text>

      <EuFlag x={217} y={421} w={41} h={28} />
      <text x={268} y={433} fontFamily="'Liberation Sans', sans-serif" fontWeight={700} fontSize={9} fill="#eee">PROGRAMME OF</text>
      <text x={268} y={444} fontFamily="'Liberation Sans', sans-serif" fontWeight={700} fontSize={9} fill="#eee" textLength={92}>THE EUROPEAN UNION</text>
      <Copernicus x={375} y={421} s={1.02} />
      <Ecmwf x={471} y={431} s={0.98} />

      {/* bottom chart texts */}
      <text x={81} y={499} fontFamily={sans} fontWeight={700} fontSize={13.5} fill="#e8e8e8" textLength={270}>DAILY SURFACE AIR TEMPERATURE</text>
      <text x={81} y={517} fontFamily={sans} fontSize={10} fill="#bdbdbd" textLength={225}>Data: ERA5 1940–2023 • Credit: C3S/ECMWF</text>
      <ClimateLogo x={539} y={484} s={0.82} />
      <text x={586} y={499} fontFamily={sans} fontSize={8} fill="#eee">Climate</text>
      <text x={586} y={510} fontFamily={sans} fontSize={8} fill="#eee">Change Service</text>
      <text x={586} y={523} fontFamily={sans} fontSize={7} fill="#888" textLength={74}>climate.copernicus.eu</text>

      {legendRows.map((r, i) => (
        <g key={r.name}>
          <line x1={674} x2={686} y1={551 + i * 11.2} y2={551 + i * 11.2} stroke={r.line} strokeWidth={r.w} />
          <text x={693} y={554 + i * 11.2} fontFamily={sans} fontSize={8.5} fill={r.text}>{r.name}</text>
        </g>
      ))}

      <text x={151} y={675} textAnchor="middle" fontFamily={sans} fontSize={7.5} fill="#b01622">2016</text>
      <line x1={162} y1={677} x2={167} y2={682} stroke="#a01420" strokeWidth={0.7} />
      <text x={512} y={584} textAnchor="middle" fontFamily={sans} fontWeight={700} fontSize={8} fill="#e01218">30 Sep 2023</text>
      <line x1={512.5} y1={587} x2={512.5} y2={597} stroke="#d8101c" strokeWidth={0.8} />
      <path d="M510.5 594 L512.5 597 L514.5 594" fill="none" stroke="#d8101c" strokeWidth={0.8} />
      <rect x={546} y={602} width={60} height={8} fill="#000" />
      <text x={576} y={611} textAnchor="middle" fontFamily={sans} fontSize={7.5} fill="#b8b8b8">1.5°C above</text>
      <text x={576} y={620} textAnchor="middle" fontFamily={sans} fontSize={7.5} fill="#b8b8b8">1850–1900 level</text>
      <line x1={545} y1={621} x2={536} y2={629} stroke="#aaa" strokeWidth={0.7} />
      <text transform="translate(666 796) rotate(-90)" fontFamily={cond} fontSize={5} fill="#555">created 2023-10-03</text>

      <EuFlag x={191} y={823} w={41} h={23} />
      <text x={243} y={833} fontFamily={sans} fontWeight={700} fontSize={7.5} fill="#eee">PROGRAMME OF</text>
      <text x={243} y={841} fontFamily={sans} fontWeight={700} fontSize={7.5} fill="#eee" textLength={92}>THE EUROPEAN UNION</text>
      <Copernicus x={349} y={822} s={0.96} />
      <Ecmwf x={446} y={831} s={0.96} />
    </svg>
  )
}

function AnomalyChart() {
  return (
    <BarChart
      width={733}
      height={430}
      data={anomalyTable}
      margin={{ top: 86, right: 21, bottom: 6, left: 30 }}
      style={{ position: "absolute", left: 0, top: 0 }}
    >
      <CartesianGrid stroke={gridColor} syncWithTicks />
      <XAxis
        dataKey="year"
        type="number"
        domain={[1938.92, 2024]}
        ticks={decadeTicks}
        interval={0}
        height={30}
        stroke="#c8c8c8"
        strokeWidth={1.5}
        tickSize={3}
        tick={tickStyle}
      />
      <YAxis
        domain={[-1.2, 1.2]}
        ticks={anomalyTicks}
        interval={0}
        width={50}
        axisLine={false}
        tickLine={false}
        tickMargin={4}
        tick={tickStyle}
        tickFormatter={(v: number) => v.toFixed(1).replace("-", "−")}
        label={{ value: "Temperature anomaly (°C)", angle: -90, position: "insideLeft", offset: 9, dy: 66, style: { fill: "#c4c4c4", fontFamily: cond, fontSize: 11 } }}
      />
      <Bar dataKey="value" barSize={6} isAnimationActive={false}>
        {anomalyTable.map((d) => (
          <Cell key={d.year} fill={d.value > 0 ? "#dc143c" : "#00b8ff"} />
        ))}
      </Bar>
    </BarChart>
  )
}

function DailyChart() {
  return (
    <ComposedChart
      width={733}
      height={299.5}
      margin={{ top: 11, right: 73, bottom: 0, left: 30.7 }}
      style={{ position: "absolute", left: 0, top: 525 }}
    >
      <CartesianGrid stroke={gridColor} syncWithTicks />
      <XAxis
        dataKey="day"
        type="number"
        domain={[1, 366]}
        ticks={monthStarts}
        interval={0}
        height={26}
        stroke="#c8c8c8"
        strokeWidth={1.5}
        tickSize={3}
        tick={<MonthTick />}
      />
      <YAxis
        domain={[10.5, 18]}
        ticks={tempTicks}
        interval={0}
        width={50}
        axisLine={false}
        tickLine={false}
        tickMargin={4}
        tick={{ fill: "#b4b4b4", fontFamily: sans, fontSize: 11 }}
        label={{ value: "Temperature (°C)", angle: -90, position: "insideLeft", offset: 14, dy: 32, style: { fill: "#c4c4c4", fontFamily: cond, fontSize: 9 } }}
      />
      <Line data={series(sampleDays, level15)} dataKey="t" stroke="#3d3d3d" strokeWidth={8} dot={false} isAnimationActive={false} />
      {decades.map((d) => (
        <Area
          key={`${d.name}-haze`}
          data={spread(d.rows)}
          dataKey="range"
          stroke="none"
          fill={d.color}
          fillOpacity={d.haze}
          dot={false}
          isAnimationActive={false}
        />
      ))}
      {decades.flatMap((d) => [
        ...d.rows.map((row, i) => (
          <Line
            key={`${d.name}-${i}`}
            data={series(sampleDays, row)}
            dataKey="t"
            stroke={d.color}
            strokeWidth={0.5}
            strokeOpacity={0.6}
            dot={false}
            isAnimationActive={false}
          />
        )),
        ...d.weekly.map((row, i) => (
          <Line
            key={`${d.name}-w${i}`}
            data={series(weekDays, row)}
            dataKey="t"
            stroke={d.color}
            strokeWidth={0.6}
            strokeOpacity={0.85}
            dot={false}
            isAnimationActive={false}
          />
        )),
        ...d.restless.map((row, i) => (
          <Line
            key={`${d.name}-r${i}`}
            data={series(offsetDays, row)}
            dataKey="t"
            stroke={d.color}
            strokeWidth={0.7}
            strokeOpacity={0.9}
            dot={false}
            isAnimationActive={false}
          />
        )),
      ])}
      <Line data={series(sampleDays, level15)} dataKey="t" stroke="#9a9a9a" strokeWidth={0.7} strokeDasharray="1.5 2" dot={false} isAnimationActive={false} />
      <Line data={series(days2016, temps2016)} dataKey="t" stroke="#c81024" strokeWidth={2} dot={false} isAnimationActive={false} />
      <Line
        data={series(days2023, temps2023)}
        dataKey="t"
        stroke="#ff0a0a"
        strokeWidth={2.6}
        isAnimationActive={false}
        dot={(p: any) =>
          p.index === days2023.length - 1 ? <circle key="end" cx={p.cx} cy={p.cy} r={3} fill="#ff0a0a" /> : <g key={p.index} />
        }
      />
    </ComposedChart>
  )
}

export default function App() {
  document.body.style.margin = "0"
  return (
    <div style={{ position: "relative", width: 733, height: 859, background: "#fff", overflow: "hidden" }}>
      <div style={{ position: "absolute", left: 7, top: 4, right: 0, bottom: 0, background: "#9a9a9a" }} />
      <div style={{ position: "absolute", left: 8, top: 5, right: 0, bottom: 0, background: "#000" }} />
      <AnomalyChart />
      <DailyChart />
      <Overlay />
    </div>
  )
}
